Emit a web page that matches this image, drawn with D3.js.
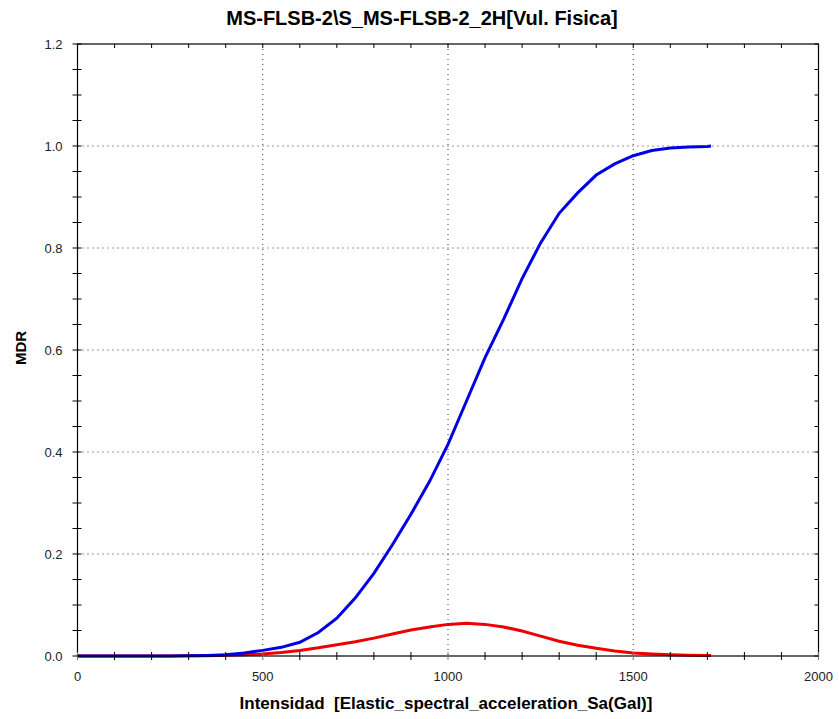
<!DOCTYPE html>
<html>
<head>
<meta charset="utf-8">
<script src="https://cdn.jsdelivr.net/npm/d3@7"></script>
<style>
  body { margin: 0; background: #fff; }
  text { font-family: "Liberation Sans", Arial, sans-serif; white-space: pre; }
</style>
</head>
<body>
<svg width="839" height="719"></svg>
<script>
// intensity samples (Gal)
var intensity = [0, 50, 100, 150, 200, 250, 300, 350, 400, 450, 500, 550, 600, 650, 700, 750, 800, 850,
                 900, 950, 1000, 1050, 1100, 1150, 1200, 1250, 1300, 1350, 1400, 1450, 1500, 1550, 1600,
                 1650, 1700, 1710];
// mean damage ratio (blue)
var mdr = [0, 0, 0, 0, 0, 0.0001, 0.0003, 0.001, 0.0025, 0.006, 0.011, 0.017, 0.027, 0.046, 0.074, 0.114,
           0.162, 0.218, 0.278, 0.342, 0.415, 0.50, 0.585, 0.66, 0.74, 0.81, 0.868, 0.908, 0.943, 0.965,
           0.981, 0.991, 0.996, 0.998, 0.999, 1.0];
// second curve (red)
var redVals = [0, 0, 0, 0, 0, 0, 0.0003, 0.0007, 0.0013, 0.0025, 0.004, 0.007, 0.011, 0.016, 0.022, 0.028,
               0.035, 0.043, 0.051, 0.057, 0.062, 0.064, 0.062, 0.057, 0.049, 0.039, 0.029, 0.021, 0.015,
               0.010, 0.006, 0.004, 0.0025, 0.0015, 0.001, 0.001];

var xTicks = [0, 500, 1000, 1500, 2000];
var yTicks = [0, 0.2, 0.4, 0.6, 0.8, 1.0, 1.2];

var titleText = "MS-FLSB-2\\S_MS-FLSB-2_2H[Vul. Fisica]";
var xLabel = "Intensidad  [Elastic_spectral_acceleration_Sa(Gal)]";
var yLabel = "MDR";

var svg = d3.select("svg");
//plot box (avoid the name "top", it is window.top)
var pL = 77.5, pR = 818.5, pT = 44, pB = 656;

var scX = d3.scaleLinear().domain([0, 2000]).range([pL, pR]);
var scY = d3.scaleLinear().domain([0, 1.2]).range([pB, pT]);

// dotted grid
svg.append("g").selectAll("line").data(xTicks.slice(1, -1)).enter().append("line")
    .attr("x1", d => scX(d)).attr("x2", d => scX(d))
    .attr("y1", pT).attr("y2", pB)
    .attr("stroke", "#333").attr("stroke-width", 1).attr("stroke-dasharray", "1,4");
svg.append("g").selectAll("line").data(yTicks.slice(1, -1)).enter().append("line")
    .attr("y1", d => scY(d)).attr("y2", d => scY(d))
    .attr("x1", pL).attr("x2", pR)
    .attr("stroke", "#333").attr("stroke-width", 1).attr("stroke-dasharray", "1,4");

// curves
var lineMaker = d3.line().x((d, i) => scX(intensity[i])).y(d => scY(d));
svg.append("path").attr("fill", "none").attr("stroke", "#ee0000").attr("stroke-width", 3)
    .attr("d", lineMaker(redVals));
svg.append("path").attr("fill", "none").attr("stroke", "#0000e6").attr("stroke-width", 3)
    .attr("d", lineMaker(mdr));

// frame
svg.append("rect").attr("x", pL).attr("y", pT)
    .attr("width", pR - pL).attr("height", pB - pT)
    .attr("fill", "none").attr("stroke", "#000").attr("stroke-width", 1.2);

// minor ticks
var xMinor = d3.range(0, 2001, 100), yMinor = d3.range(0, 1.2001, 0.05);
var tg = svg.append("g").attr("stroke", "#000").attr("stroke-width", 1);
tg.selectAll(".xb").data(xMinor).enter().append("line")
    .attr("x1", d => scX(d)).attr("x2", d => scX(d))
    .attr("y1", pB - 4).attr("y2", pB + 4)
    .attr("stroke", d => d % 500 === 0 ? "#777" : "#000");
tg.selectAll(".xt").data(xMinor).enter().append("line")
    .attr("x1", d => scX(d)).attr("x2", d => scX(d))
    .attr("y1", pT).attr("y2", pT + 4);
tg.selectAll(".yl").data(yMinor).enter().append("line")
    .attr("y1", d => scY(d)).attr("y2", d => scY(d))
    .attr("x1", pL - 5).attr("x2", pL + 4);
tg.selectAll(".yr").data(yMinor).enter().append("line")
    .attr("y1", d => scY(d)).attr("y2", d => scY(d))
    .attr("x1", pR - 4).attr("x2", pR);

// tick labels
svg.append("g").selectAll("text").data(xTicks).enter().append("text")
    .attr("x", d => scX(d)).attr("y", pB + 25)
    .attr("text-anchor", "middle").attr("font-size", 13).attr("fill", "#222")
    .text(d => d);
svg.append("g").selectAll("text").data(yTicks).enter().append("text")
    .attr("x", pL - 15).attr("y", d => scY(d) + 5)
    .attr("text-anchor", "end").attr("font-size", 13).attr("fill", "#222")
    .text(d => d3.format(".1f")(d));

// titles
svg.append("text").attr("x", 422).attr("y", 25).attr("text-anchor", "middle")
    .attr("font-size", 20).attr("font-weight", "bold").text(titleText);
svg.append("text").attr("x", 446).attr("y", 709).attr("text-anchor", "middle")
    .attr("font-size", 17).attr("font-weight", "bold").text(xLabel);
svg.append("text").attr("transform", "translate(26,348) rotate(-90)").attr("text-anchor", "middle")
    .attr("font-size", 15).attr("font-weight", "bold").text(yLabel);
</script>
</body>
</html>
